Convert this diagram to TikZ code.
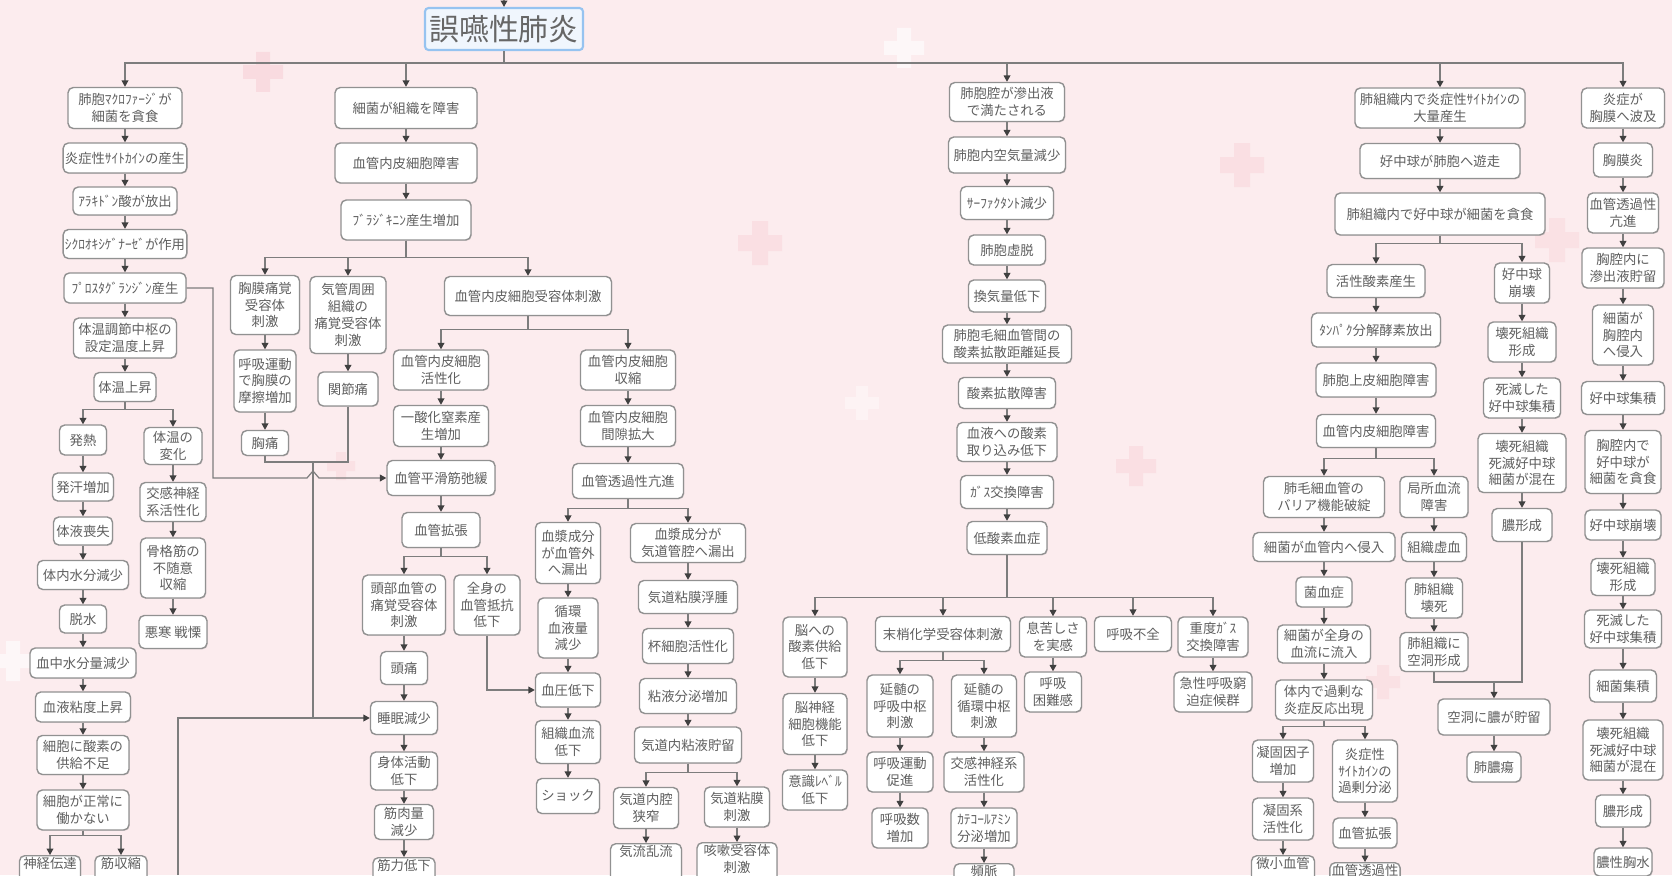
\documentclass[tikz,border=0pt]{standalone}
\usepackage{fontspec}
\setmainfont{Noto Sans CJK JP}
\usetikzlibrary{arrows.meta,shadows}

\definecolor{bgpink}{RGB}{252,236,238}
\definecolor{crosspink}{RGB}{247,200,208}
\definecolor{linegray}{RGB}{125,125,125}
\definecolor{boxgray}{RGB}{145,145,145}
\definecolor{txtgray}{RGB}{95,95,95}
\definecolor{titleblue}{RGB}{150,195,240}
\definecolor{titlefill}{RGB}{240,246,253}

\tikzset{
  box/.style={draw=boxgray, fill=white, line width=0.8pt, rounded corners=3pt,
    align=center, inner sep=1pt, text=txtgray, font=\fontsize{7.6}{9.6}\selectfont,
    drop shadow={shadow xshift=0.5pt, shadow yshift=-0.5pt, opacity=0.2}},
  sz/.style 2 args={minimum width=#1*0.02cm, minimum height=#2*0.02cm},
  cutoff/.style={anchor=north, text depth=22pt},
  conn/.style={draw=linegray, line width=0.7pt},
  arr/.style={conn, -{Triangle[length=3.6pt, width=3.8pt, color=black!75]}},
  titlebox/.style={draw=titleblue, fill=titlefill, line width=1.2pt, rounded corners=2pt,
    inner sep=1pt, text=black!60, font=\fontsize{17}{19}\selectfont}
}

\begin{document}
\begin{tikzpicture}[x=0.02cm, y=-0.02cm]
  \useasboundingbox (0,0) rectangle (1672,875);
  \clip (0,0) rectangle (1672,875);
  \fill[bgpink] (0,0) rectangle (1672,875);
  \fill[crosspink, opacity=0.45] (263,72) +(-7,-20) rectangle +(7,20) +(-20,-7) rectangle +(20,7);
  \fill[crosspink, opacity=0.35] (760,243) +(-8,-22) rectangle +(8,22) +(-22,-8) rectangle +(22,8);
  \fill[crosspink, opacity=0.35] (1242,165) +(-8,-22) rectangle +(8,22) +(-22,-8) rectangle +(22,8);
  \fill[crosspink, opacity=0.35] (1136,466) +(-7,-20) rectangle +(7,20) +(-20,-7) rectangle +(20,7);
  \fill[crosspink, opacity=0.3] (1557,240) +(-8,-22) rectangle +(8,22) +(-22,-8) rectangle +(22,8);
  \fill[crosspink, opacity=0.3] (1383,682) +(-6,-17) rectangle +(6,17) +(-17,-6) rectangle +(17,6);
  \fill[crosspink, opacity=0.3] (341,466) +(-5,-14) rectangle +(5,14) +(-14,-5) rectangle +(14,5);
  \fill[white, opacity=0.6] (904,48) +(-7,-20) rectangle +(7,20) +(-20,-7) rectangle +(20,7);
  \fill[white, opacity=0.6] (13,661) +(-7,-20) rectangle +(7,20) +(-20,-7) rectangle +(20,7);
  \fill[white, opacity=0.4] (862,403) +(-6,-17) rectangle +(6,17) +(-17,-6) rectangle +(17,6);

  \node[titlebox, minimum width=158*0.02cm, minimum height=42*0.02cm] (title) at (504,29) {誤嚥性肺炎};

  \node[box, sz={114}{41}] (maku) at (125,108) {肺胞ﾏｸﾛﾌｧｰｼﾞが\\細菌を貪食};
  \node[box, sz={122}{30}] (cyto) at (125,158) {炎症性ｻｲﾄｶｲﾝの産生};
  \node[box, sz={104}{28}] (araki) at (125,201) {ｱﾗｷﾄﾞﾝ酸が放出};
  \node[box, sz={122}{29}] (cox) at (125,244) {ｼｸﾛｵｷｼｹﾞﾅｰｾﾞが作用};
  \node[box, sz={122}{30}] (pros) at (125,288) {ﾌﾟﾛｽﾀｸﾞﾗﾝｼﾞﾝ産生};
  \node[box, sz={103}{40}] (settei) at (125,338) {体温調節中枢の\\設定温度上昇};
  \node[box, sz={62}{29}] (taion) at (125,387) {体温上昇};
  \node[box, sz={47}{30}] (hatsu) at (83,440) {発熱};
  \node[box, sz={58}{37}] (henka) at (173,446) {体温の\\変化};
  \node[box, sz={61}{28}] (hakkan) at (83,487) {発汗増加};
  \node[box, sz={59}{28}] (soshitsu) at (83,531) {体液喪失};
  \node[box, sz={91}{29}] (suibun) at (83,575) {体内水分減少};
  \node[box, sz={47}{28}] (dassui) at (83,619) {脱水};
  \node[box, sz={106}{30}] (kechu) at (83,663) {血中水分量減少};
  \node[box, sz={95}{30}] (nendo) at (83,707) {血液粘度上昇};
  \node[box, sz={92}{39}] (sanso) at (83,755) {細胞に酸素の\\供給不足};
  \node[box, sz={92}{40}] (seijo) at (83,810) {細胞が正常に\\働かない};
  \node[box, cutoff, sz={61}{10}] (shinkei) at (50,855) {神経伝達};
  \node[box, cutoff, sz={52}{10}] (kinshu) at (121,855) {筋収縮};
  \node[box, sz={66}{39}] (koukan) at (173,502) {交感神経\\系活性化};
  \node[box, sz={65}{60}] (kokkaku) at (173,568) {骨格筋の\\不随意\\収縮};
  \node[box, sz={68}{33}] (okan) at (173,632) {悪寒 戦慄};

  \node[box, sz={142}{41}] (shogai) at (406,108) {細菌が組織を障害};
  \node[box, sz={142}{40}] (naihi) at (406,163) {血管内皮細胞障害};
  \node[box, sz={130}{40}] (bura) at (406,220) {ﾌﾞﾗｼﾞｷﾆﾝ産生増加};
  \node[box, sz={69}{59}] (kyomaku) at (265,305) {胸膜痛覚\\受容体\\刺激};
  \node[box, sz={76}{77}] (kikan) at (348,315) {気管周囲\\組織の\\痛覚受容体\\刺激};
  \node[box, sz={167}{39}] (juyo) at (528,296) {血管内皮細胞受容体刺激};
  \node[box, sz={62}{62}] (masatsu) at (265,381) {呼吸運動\\で胸膜の\\摩擦増加};
  \node[box, sz={60}{34}] (kansetsu) at (348,389) {関節痛};
  \node[box, sz={47}{25}] (kyotsu) at (265,443) {胸痛};
  \node[box, sz={95}{40}] (kassei) at (441,370) {血管内皮細胞\\活性化};
  \node[box, sz={95}{41}] (no) at (441,426) {一酸化窒素産\\生増加};
  \node[box, sz={108}{35}] (heikatsu) at (441,478) {血管平滑筋弛緩};
  \node[box, sz={78}{35}] (kakucho) at (441,530) {血管拡張};
  \node[box, sz={83}{60}] (tobu) at (404,605) {頭部血管の\\痛覚受容体\\刺激};
  \node[box, sz={66}{60}] (zenshin) at (487,605) {全身の\\血管抵抗\\低下};
  \node[box, sz={47}{33}] (zutsu) at (404,668) {頭痛};
  \node[box, sz={67}{33}] (suimin) at (404,718) {睡眠減少};
  \node[box, sz={67}{38}] (shintai) at (404,771) {身体活動\\低下};
  \node[box, sz={59}{35}] (kinniku) at (404,822) {筋肉量\\減少};
  \node[box, cutoff, sz={62}{10}] (kinryoku) at (404,857) {筋力低下};
  \node[box, sz={95}{40}] (shushuku) at (628,370) {血管内皮細胞\\収縮};
  \node[box, sz={95}{41}] (kanges) at (628,426) {血管内皮細胞\\間隙拡大};
  \node[box, sz={111}{35}] (tsuka) at (628,481) {血管透過性亢進};
  \node[box, sz={65}{61}] (rouketsu) at (568,553) {血漿成分\\が血管外\\へ漏出};
  \node[box, sz={60}{60}] (junkan) at (568,628) {循環\\血液量\\減少};
  \node[box, sz={65}{34}] (ketsuatsu) at (568,690) {血圧低下};
  \node[box, sz={65}{43}] (soshiki) at (568,742) {組織血流\\低下};
  \node[box, sz={63}{35}] (shock) at (568,796) {ショック};
  \node[box, sz={115}{39}] (roukido) at (688,543) {血漿成分が\\気道管腔へ漏出};
  \node[box, sz={99}{33}] (fushu) at (688,597) {気道粘膜浮腫};
  \node[box, sz={91}{35}] (hai) at (688,646) {杯細胞活性化};
  \node[box, sz={97}{35}] (nenbun) at (688,696) {粘液分泌増加};
  \node[box, sz={107}{36}] (nencho) at (688,745) {気道内粘液貯留};
  \node[box, sz={65}{41}] (kyosaku) at (646,808) {気道内腔\\狭窄};
  \node[box, sz={65}{40}] (shigeki) at (737,807) {気道粘膜\\刺激};
  \node[box, cutoff, sz={71}{10}] (kiryu) at (646,843) {気流乱流};
  \node[box, cutoff, sz={80}{10}] (gaisou) at (737,842) {咳嗽受容体\\刺激};

  \node[box, sz={115}{39}] (shinshutsu) at (1007,102) {肺胞腔が滲出液\\で満たされる};
  \node[box, sz={117}{36}] (kuki) at (1007,155) {肺胞内空気量減少};
  \node[box, sz={93}{33}] (surf) at (1007,203) {ｻｰﾌｧｸﾀﾝﾄ減少};
  \node[box, sz={77}{30}] (kyodatsu) at (1007,250) {肺胞虚脱};
  \node[box, sz={77}{32}] (kanki) at (1007,296) {換気量低下};
  \node[box, sz={129}{38}] (kyori) at (1007,344) {肺胞毛細血管間の\\酸素拡散距離延長};
  \node[box, sz={97}{31}] (kakusan) at (1007,393) {酸素拡散障害};
  \node[box, sz={100}{39}] (torikomi) at (1007,442) {血液への酸素\\取り込み低下};
  \node[box, sz={93}{33}] (gas) at (1007,492) {ｶﾞｽ交換障害};
  \node[box, sz={80}{33}] (teisanso) at (1007,538) {低酸素血症};
  \node[box, sz={64}{60}] (nou) at (815,647) {脳への\\酸素供給\\低下};
  \node[box, sz={135}{35}] (masho) at (943,634) {末梢化学受容体刺激};
  \node[box, sz={67}{40}] (iki) at (1053,637) {息苦しさ\\を実感};
  \node[box, sz={77}{35}] (fuzen) at (1133,634) {呼吸不全};
  \node[box, sz={70}{40}] (judo) at (1213,637) {重度ｶﾞｽ\\交換障害};
  \node[box, sz={64}{61}] (noushin) at (815,724) {脳神経\\細胞機能\\低下};
  \node[box, sz={65}{40}] (ishiki) at (815,790) {意識ﾚﾍﾞﾙ\\低下};
  \node[box, sz={66}{62}] (kokyu) at (900,706) {延髄の\\呼吸中枢\\刺激};
  \node[box, sz={65}{62}] (junchu) at (984,706) {延髄の\\循環中枢\\刺激};
  \node[box, sz={66}{40}] (sokushin) at (900,772) {呼吸運動\\促進};
  \node[box, sz={56}{40}] (kokyusu) at (900,828) {呼吸数\\増加};
  \node[box, sz={80}{40}] (koukan2) at (984,772) {交感神経系\\活性化};
  \node[box, sz={66}{40}] (kate) at (984,828) {ｶﾃｺｰﾙｱﾐﾝ\\分泌増加};
  \node[box, cutoff, sz={60}{10}] (hinmyaku) at (984,863) {頻脈};
  \node[box, sz={57}{40}] (konnan) at (1053,692) {呼吸\\困難感};
  \node[box, sz={78}{40}] (ards) at (1213,692) {急性呼吸窮\\迫症候群};

  \node[box, sz={170}{40}] (taisan) at (1440,108) {肺組織内で炎症性ｻｲﾄｶｲﾝの\\大量産生};
  \node[box, sz={160}{35}] (yuso) at (1440,161) {好中球が肺胞へ遊走};
  \node[box, sz={210}{42}] (donshoku) at (1440,214) {肺組織内で好中球が細菌を貪食};
  \node[box, sz={98}{33}] (kasseisanso) at (1376,281) {活性酸素産生};
  \node[box, sz={129}{34}] (tanpaku) at (1376,330) {ﾀﾝﾊﾟｸ分解酵素放出};
  \node[box, sz={120}{34}] (johi) at (1376,380) {肺胞上皮細胞障害};
  \node[box, sz={119}{33}] (naihi2) at (1376,431) {血管内皮細胞障害};
  \node[box, sz={121}{41}] (barrier) at (1324,497) {肺毛細血管の\\バリア機能破綻};
  \node[box, sz={68}{41}] (kyokusho) at (1434,497) {局所血流\\障害};
  \node[box, sz={142}{29}] (shinnyu) at (1324,547) {細菌が血管内へ侵入};
  \node[box, sz={65}{29}] (kyoketsu) at (1434,547) {組織虚血};
  \node[box, sz={56}{30}] (kinketsu) at (1324,592) {菌血症};
  \node[box, sz={57}{40}] (eshi) at (1434,598) {肺組織\\壊死};
  \node[box, sz={93}{38}] (ryunyu) at (1324,644) {細菌が全身の\\血流に流入};
  \node[box, sz={68}{39}] (kudo) at (1434,652) {肺組織に\\空洞形成};
  \node[box, sz={97}{40}] (kajou) at (1324,700) {体内で過剰な\\炎症反応出現};
  \node[box, sz={61}{42}] (gyoko) at (1283,761) {凝固因子\\増加};
  \node[box, sz={65}{62}] (kajobunpi) at (1365,771) {炎症性\\ｻｲﾄｶｲﾝの\\過剰分泌};
  \node[box, sz={61}{42}] (gyokokei) at (1283,819) {凝固系\\活性化};
  \node[box, sz={64}{30}] (kakucho2) at (1365,833) {血管拡張};
  \node[box, cutoff, sz={63}{10}] (bisho) at (1283,855) {微小血管};
  \node[box, cutoff, sz={70}{10}] (toka) at (1365,862) {血管透過性};
  \node[box, sz={55}{40}] (houkai) at (1522,283) {好中球\\崩壊};
  \node[box, sz={68}{40}] (eshikei) at (1522,342) {壊死組織\\形成};
  \node[box, sz={77}{40}] (shimetsu) at (1522,398) {死滅した\\好中球集積};
  \node[box, sz={88}{59}] (konzai) at (1522,463) {壊死組織\\死滅好中球\\細菌が混在};
  \node[box, sz={60}{33}] (noukei) at (1522,525) {膿形成};
  \node[box, sz={112}{36}] (chozou) at (1494,717) {空洞に膿が貯留};
  \node[box, sz={54}{30}] (noyo) at (1494,767) {肺膿瘍};

  \node[box, sz={83}{40}] (hakyu) at (1623,108) {炎症が\\胸膜へ波及};
  \node[box, sz={59}{34}] (kyomakuen) at (1623,160) {胸膜炎};
  \node[box, sz={71}{40}] (tsuka2) at (1623,213) {血管透過性\\亢進};
  \node[box, sz={82}{40}] (kyokuu) at (1623,268) {胸腔内に\\滲出液貯留};
  \node[box, sz={61}{60}] (kyoshin) at (1623,335) {細菌が\\胸腔内\\へ侵入};
  \node[box, sz={83}{33}] (shuseki) at (1623,398) {好中球集積};
  \node[box, sz={76}{63}] (kyodon) at (1623,462) {胸腔内で\\好中球が\\細菌を貪食};
  \node[box, sz={76}{30}] (houkai2) at (1623,525) {好中球崩壊};
  \node[box, sz={64}{37}] (eshikei2) at (1623,577) {壊死組織\\形成};
  \node[box, sz={77}{38}] (shimetsu2) at (1623,629) {死滅した\\好中球集積};
  \node[box, sz={67}{32}] (saikin) at (1623,686) {細菌集積};
  \node[box, sz={80}{60}] (konzai2) at (1623,750) {壊死組織\\死滅好中球\\細菌が混在};
  \node[box, sz={55}{32}] (noukei2) at (1623,811) {膿形成};
  \node[box, sz={58}{28}] (kyosui) at (1623,862) {膿性胸水};

  \coordinate (top) at (504,0);
  \coordinate (bus) at (504,63);
  \draw[arr] (top) -- (title);
  \draw[conn] (title) -- (bus);
  \draw[arr] (bus) -| (maku.north);
  \draw[arr] (bus) -| (shogai.north);
  \draw[arr] (bus) -| (shinshutsu.north);
  \draw[arr] (bus) -| (taisan.north);
  \draw[arr] (bus) -| (hakyu.north);

  \draw[arr] (maku) -- (cyto);
  \draw[arr] (cyto) -- (araki);
  \draw[arr] (araki) -- (cox);
  \draw[arr] (cox) -- (pros);
  \draw[arr] (pros) -- (settei);
  \draw[arr] (settei) -- (taion);
  \draw[arr] (taion.south) -- ++(0,7) -| (hatsu.north);
  \draw[arr] (taion.south) -- ++(0,7) -| (henka.north);
  \draw[arr] (hatsu) -- (hakkan);
  \draw[arr] (hakkan) -- (soshitsu);
  \draw[arr] (soshitsu) -- (suibun);
  \draw[arr] (suibun) -- (dassui);
  \draw[arr] (dassui) -- (kechu);
  \draw[arr] (kechu) -- (nendo);
  \draw[arr] (nendo) -- (sanso);
  \draw[arr] (sanso) -- (seijo);
  \draw[arr] (seijo.south) -- ++(0,5) -| (shinkei.north);
  \draw[arr] (seijo.south) -- ++(0,5) -| (kinshu.north);
  \draw[arr] (henka) -- (koukan);
  \draw[arr] (koukan) -- (kokkaku);
  \draw[arr] (kokkaku) -- (okan);

  \draw[arr] (shogai) -- (naihi);
  \draw[arr] (naihi) -- (bura);
  \draw[arr] (bura.south) -- ++(0,17) -| (kyomaku.north);
  \draw[arr] (bura.south) -- ++(0,17) -| (kikan.north);
  \draw[arr] (bura.south) -- ++(0,17) -| (juyo.north);
  \draw[arr] (kyomaku) -- (masatsu);
  \draw[arr] (masatsu) -- (kyotsu);
  \draw[arr] (kikan) -- (kansetsu);
  \draw[arr] (juyo.south) -- ++(0,13) -| (kassei.north);
  \draw[arr] (juyo.south) -- ++(0,13) -| (shushuku.north);
  \draw[arr] (kassei) -- (no);
  \draw[arr] (no) -- (heikatsu);
  \draw[arr] (heikatsu) -- (kakucho);
  \draw[arr] (kakucho.south) -- ++(0,8) -| (tobu.north);
  \draw[arr] (kakucho.south) -- ++(0,8) -| (zenshin.north);
  \draw[arr] (tobu) -- (zutsu);
  \draw[arr] (zutsu) -- (suimin);
  \draw[arr] (suimin) -- (shintai);
  \draw[arr] (shintai) -- (kinniku);
  \draw[arr] (kinniku) -- (kinryoku);
  \draw[arr] (zenshin.south) |- (ketsuatsu.west);
  \draw[arr] (shushuku) -- (kanges);
  \draw[arr] (kanges) -- (tsuka);
  \draw[arr] (tsuka.south) -- ++(0,9) -| (rouketsu.north);
  \draw[arr] (tsuka.south) -- ++(0,9) -| (roukido.north);
  \draw[arr] (rouketsu) -- (junkan);
  \draw[arr] (junkan) -- (ketsuatsu);
  \draw[arr] (ketsuatsu) -- (soshiki);
  \draw[arr] (soshiki) -- (shock);
  \draw[arr] (roukido) -- (fushu);
  \draw[arr] (fushu) -- (hai);
  \draw[arr] (hai) -- (nenbun);
  \draw[arr] (nenbun) -- (nencho);
  \draw[arr] (nencho.south) -- ++(0,9) -| (kyosaku.north);
  \draw[arr] (nencho.south) -- ++(0,9) -| (shigeki.north);
  \draw[arr] (kyosaku) -- (kiryu);
  \draw[arr] (shigeki) -- (gaisou);

  \coordinate (pbend) at (213,478);
  \draw[arr] (pros.east) -| (pbend) -- (307,478) -- (313,471) -- (319,478) -- (heikatsu.west);
  \coordinate (mj) at (313,462);
  \coordinate (sj) at (313,718);
  \coordinate (low) at (178,875);
  \draw[conn] (kyotsu.south) |- (mj);
  \draw[conn] (kansetsu.south) |- (mj);
  \draw[arr] (mj) -- (sj) -- (suimin.west);
  \draw[conn] (low) |- (sj);

  \draw[arr] (shinshutsu) -- (kuki);
  \draw[arr] (kuki) -- (surf);
  \draw[arr] (surf) -- (kyodatsu);
  \draw[arr] (kyodatsu) -- (kanki);
  \draw[arr] (kanki) -- (kyori);
  \draw[arr] (kyori) -- (kakusan);
  \draw[arr] (kakusan) -- (torikomi);
  \draw[arr] (torikomi) -- (gas);
  \draw[arr] (gas) -- (teisanso);
  \draw[arr] (teisanso.south) -- ++(0,42) -| (nou.north);
  \draw[arr] (teisanso.south) -- ++(0,42) -| (masho.north);
  \draw[arr] (teisanso.south) -- ++(0,42) -| (iki.north);
  \draw[arr] (teisanso.south) -- ++(0,42) -| (fuzen.north);
  \draw[arr] (teisanso.south) -- ++(0,42) -| (judo.north);
  \draw[arr] (nou) -- (noushin);
  \draw[arr] (noushin) -- (ishiki);
  \draw[arr] (masho.south) -- ++(0,8) -| (kokyu.north);
  \draw[arr] (masho.south) -- ++(0,8) -| (junchu.north);
  \draw[arr] (kokyu) -- (sokushin);
  \draw[arr] (sokushin) -- (kokyusu);
  \draw[arr] (junchu) -- (koukan2);
  \draw[arr] (koukan2) -- (kate);
  \draw[arr] (kate) -- (hinmyaku);
  \draw[arr] (iki) -- (konnan);
  \draw[arr] (judo) -- (ards);

  \draw[arr] (taisan) -- (yuso);
  \draw[arr] (yuso) -- (donshoku);
  \draw[arr] (donshoku.south) -- ++(0,8) -| (kasseisanso.north);
  \draw[arr] (donshoku.south) -- ++(0,8) -| (houkai.north);
  \draw[arr] (kasseisanso) -- (tanpaku);
  \draw[arr] (tanpaku) -- (johi);
  \draw[arr] (johi) -- (naihi2);
  \draw[arr] (naihi2.south) -- ++(0,10) -| (barrier.north);
  \draw[arr] (naihi2.south) -- ++(0,10) -| (kyokusho.north);
  \draw[arr] (barrier) -- (shinnyu);
  \draw[arr] (shinnyu) -- (kinketsu);
  \draw[arr] (kinketsu) -- (ryunyu);
  \draw[arr] (ryunyu) -- (kajou);
  \draw[arr] (kajou.south) -- ++(0,6) -| (gyoko.north);
  \draw[arr] (kajou.south) -- ++(0,6) -| (kajobunpi.north);
  \draw[arr] (gyoko) -- (gyokokei);
  \draw[arr] (gyokokei) -- (bisho);
  \draw[arr] (kajobunpi) -- (kakucho2);
  \draw[arr] (kakucho2) -- (toka);
  \draw[arr] (kyokusho) -- (kyoketsu);
  \draw[arr] (kyoketsu) -- (eshi);
  \draw[arr] (eshi) -- (kudo);
  \draw[arr] (houkai) -- (eshikei);
  \draw[arr] (eshikei) -- (shimetsu);
  \draw[arr] (shimetsu) -- (konzai);
  \draw[arr] (konzai) -- (noukei);
  \coordinate (kj) at (1494,682);
  \draw[conn] (kudo.south) |- (kj);
  \draw[conn] (noukei.south) |- (kj);
  \draw[arr] (kj) -- (chozou.north);
  \draw[arr] (chozou) -- (noyo);

  \draw[arr] (hakyu) -- (kyomakuen);
  \draw[arr] (kyomakuen) -- (tsuka2);
  \draw[arr] (tsuka2) -- (kyokuu);
  \draw[arr] (kyokuu) -- (kyoshin);
  \draw[arr] (kyoshin) -- (shuseki);
  \draw[arr] (shuseki) -- (kyodon);
  \draw[arr] (kyodon) -- (houkai2);
  \draw[arr] (houkai2) -- (eshikei2);
  \draw[arr] (eshikei2) -- (shimetsu2);
  \draw[arr] (shimetsu2) -- (saikin);
  \draw[arr] (saikin) -- (konzai2);
  \draw[arr] (konzai2) -- (noukei2);
  \draw[arr] (noukei2) -- (kyosui);
\end{tikzpicture}
\end{document}
